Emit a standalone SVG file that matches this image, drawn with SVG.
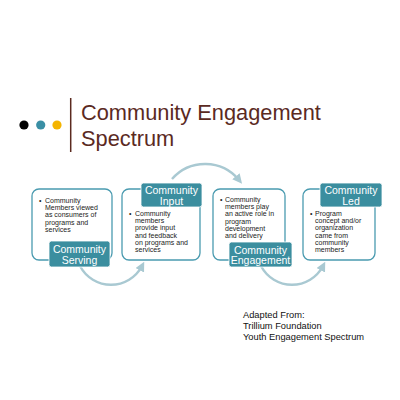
<svg xmlns="http://www.w3.org/2000/svg" width="400" height="400" viewBox="0 0 400 400">
<defs>
<style>
.title{font-family:"Liberation Sans",Arial,sans-serif;font-size:21.8px;fill:#5b2a1f}
.box{fill:#fff;stroke:#4a9bb0;stroke-width:1.3}
.lab{fill:#3b8e9f;stroke:#fff;stroke-width:0.8}
.lt{font-family:"Liberation Sans",Arial,sans-serif;font-size:10.5px;fill:#fff;text-anchor:middle}
.bt{font-family:"Liberation Sans",Arial,sans-serif;font-size:7px;fill:#222}
.arc{fill:none;stroke:#a9c9d2;stroke-width:2.4;marker-end:url(#ah)}
.src{font-family:"Liberation Sans",Arial,sans-serif;font-size:9.3px;fill:#111}
</style>
<marker id="ah" viewBox="0 0 10 10" refX="5" refY="5" markerWidth="4" markerHeight="4" orient="auto" markerUnits="strokeWidth">
<path d="M0,0 L10,5 L0,10 Z" fill="#a9c9d2"/>
</marker>
</defs>
<rect width="400" height="400" fill="#fff"/>
<g id="header">
<circle cx="24" cy="125" r="4.6" fill="#000"/>
<circle cx="40.7" cy="125" r="4.6" fill="#3a8fa5"/>
<circle cx="57" cy="125" r="4.6" fill="#f4b400"/>
<line x1="70.7" y1="98" x2="70.7" y2="152" stroke="#5b2a1f" stroke-width="1.5"/>
<text class="title" x="81" y="120">Community Engagement</text>
<text class="title" x="81" y="146">Spectrum</text>
</g>
<g id="connectors">
<path class="arc" d="M80,266 A35,35 0 0 0 142,266"/>
<path class="arc" d="M172,179 A44,44 0 0 1 239,180"/>
<path class="arc" d="M261,266 A35,35 0 0 0 323,266"/>
</g>
<g id="serving">
<rect class="box" x="32" y="189" width="80" height="71" rx="7"/>
<text class="bt" x="39" y="203">•</text>
<text class="bt"><tspan x="45" y="203">Community</tspan><tspan x="45" y="210.2">Members viewed</tspan><tspan x="45" y="217.4">as consumers of</tspan><tspan x="45" y="224.6">programs and</tspan><tspan x="45" y="231.8">services</tspan></text>
<rect class="lab" x="49" y="241" width="61" height="26" rx="2.5"/>
<text class="lt"><tspan x="79.5" y="253">Community</tspan><tspan x="79.5" y="263.5">Serving</tspan></text>
</g>
<g id="input">
<rect class="box" x="122" y="189" width="78" height="71" rx="7"/>
<text class="bt" x="129" y="216">•</text>
<text class="bt"><tspan x="135" y="216">Community</tspan><tspan x="135" y="223.2">members</tspan><tspan x="135" y="230.4">provide input</tspan><tspan x="135" y="237.6">and feedback</tspan><tspan x="135" y="244.8">on programs and</tspan><tspan x="135" y="252">services</tspan></text>
<rect class="lab" x="141" y="183" width="61" height="24" rx="2.5"/>
<text class="lt"><tspan x="171.5" y="194">Community</tspan><tspan x="171.5" y="204.5">Input</tspan></text>
</g>
<g id="engagement">
<rect class="box" x="213" y="189" width="72" height="71" rx="7"/>
<text class="bt" x="220" y="202">•</text>
<text class="bt"><tspan x="225" y="202">Community</tspan><tspan x="225" y="209.2">members play</tspan><tspan x="225" y="216.4">an active role in</tspan><tspan x="225" y="223.6">program</tspan><tspan x="225" y="230.8">development</tspan><tspan x="225" y="238">and delivery</tspan></text>
<rect class="lab" x="229" y="242" width="63" height="25" rx="2.5"/>
<text class="lt"><tspan x="260.5" y="253.5">Community</tspan><tspan x="260.5" y="264">Engagement</tspan></text>
</g>
<g id="led">
<rect class="box" x="303" y="189" width="72" height="71" rx="7"/>
<text class="bt" x="310" y="216">•</text>
<text class="bt"><tspan x="315" y="216">Program</tspan><tspan x="315" y="223.2">concept and/or</tspan><tspan x="315" y="230.4">organization</tspan><tspan x="315" y="237.6">came from</tspan><tspan x="315" y="244.8">community</tspan><tspan x="315" y="252">members</tspan></text>
<rect class="lab" x="320" y="183" width="62" height="24" rx="2.5"/>
<text class="lt"><tspan x="351" y="194">Community</tspan><tspan x="351" y="204.5">Led</tspan></text>
</g>
<g id="source">
<text class="src"><tspan x="243" y="318">Adapted From:</tspan><tspan x="243" y="329">Trillium Foundation</tspan><tspan x="243" y="340">Youth Engagement Spectrum</tspan></text>
</g>
</svg>
